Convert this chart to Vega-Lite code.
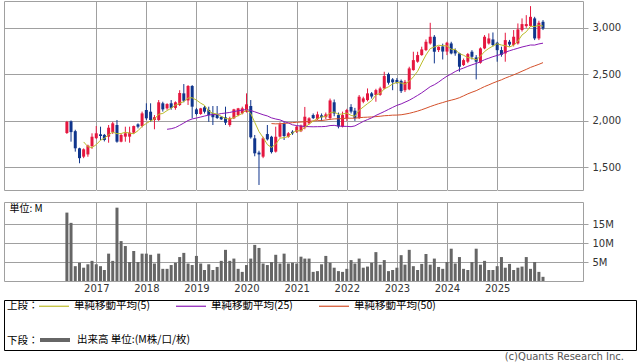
{
  "$schema": "https://vega.github.io/schema/vega-lite/v6.json",
  "padding": {"left": 3, "top": 0, "right": 0, "bottom": 0},
  "background": "white",
  "bounds": "full",
  "spacing": 3,
  "datasets": {
    "p": [
      {"d":"2016-06-01","o":1870,"h":2000,"l":1860,"c":1990,"v":18.0},
      {"d":"2016-07-01","o":1995,"h":2005,"l":1777,"c":1880,"v":15.3},
      {"d":"2016-08-01","o":1890,"h":1905,"l":1670,"c":1706,"v":3.9},
      {"d":"2016-09-01","o":1706,"h":1712,"l":1545,"c":1600,"v":4.8},
      {"d":"2016-10-01","o":1616,"h":1705,"l":1600,"c":1695,"v":3.5},
      {"d":"2016-11-01","o":1640,"h":1745,"l":1615,"c":1735,"v":4.4},
      {"d":"2016-12-01","o":1730,"h":1867,"l":1700,"c":1830,"v":5.3},
      {"d":"2017-01-01","o":1815,"h":1945,"l":1805,"c":1867,"v":4.4},
      {"d":"2017-02-01","o":1856,"h":1938,"l":1795,"c":1838,"v":3.9},
      {"d":"2017-03-01","o":1850,"h":1860,"l":1780,"c":1795,"v":2.9},
      {"d":"2017-04-01","o":1831,"h":1956,"l":1766,"c":1927,"v":7.2},
      {"d":"2017-05-01","o":1880,"h":1990,"l":1860,"c":1974,"v":5.3},
      {"d":"2017-06-01","o":1956,"h":2010,"l":1766,"c":1777,"v":19.3},
      {"d":"2017-07-01","o":1777,"h":1860,"l":1770,"c":1849,"v":10.5},
      {"d":"2017-08-01","o":1831,"h":1938,"l":1777,"c":1867,"v":9.2},
      {"d":"2017-09-01","o":1831,"h":1938,"l":1766,"c":1874,"v":5.0},
      {"d":"2017-10-01","o":1874,"h":1950,"l":1860,"c":1945,"v":7.9},
      {"d":"2017-11-01","o":1963,"h":1974,"l":1920,"c":1938,"v":5.0},
      {"d":"2017-12-01","o":1945,"h":2100,"l":1930,"c":2081,"v":7.2},
      {"d":"2018-01-01","o":2117,"h":2189,"l":2010,"c":2028,"v":7.2},
      {"d":"2018-02-01","o":2099,"h":2189,"l":1990,"c":2010,"v":6.9},
      {"d":"2018-03-01","o":2010,"h":2063,"l":1910,"c":2040,"v":4.6},
      {"d":"2018-04-01","o":2010,"h":2224,"l":2000,"c":2200,"v":7.2},
      {"d":"2018-05-01","o":2189,"h":2206,"l":2100,"c":2124,"v":3.2},
      {"d":"2018-06-01","o":2135,"h":2190,"l":2120,"c":2181,"v":3.2},
      {"d":"2018-07-01","o":2189,"h":2224,"l":2120,"c":2140,"v":4.2},
      {"d":"2018-08-01","o":2140,"h":2210,"l":2120,"c":2200,"v":4.8},
      {"d":"2018-09-01","o":2171,"h":2330,"l":2160,"c":2300,"v":6.3},
      {"d":"2018-10-01","o":2296,"h":2396,"l":2200,"c":2217,"v":7.4},
      {"d":"2018-11-01","o":2220,"h":2385,"l":2171,"c":2375,"v":4.6},
      {"d":"2018-12-01","o":2375,"h":2385,"l":2028,"c":2153,"v":4.2},
      {"d":"2019-01-01","o":2124,"h":2140,"l":2060,"c":2074,"v":6.6},
      {"d":"2019-02-01","o":2074,"h":2140,"l":2065,"c":2135,"v":4.6},
      {"d":"2019-03-01","o":2146,"h":2160,"l":2080,"c":2099,"v":2.9},
      {"d":"2019-04-01","o":2117,"h":2153,"l":1990,"c":2063,"v":4.4},
      {"d":"2019-05-01","o":2081,"h":2160,"l":1956,"c":2040,"v":2.9},
      {"d":"2019-06-01","o":2070,"h":2160,"l":2020,"c":2031,"v":3.7},
      {"d":"2019-07-01","o":2045,"h":2050,"l":2010,"c":2017,"v":5.3},
      {"d":"2019-08-01","o":2038,"h":2153,"l":1956,"c":1981,"v":8.2},
      {"d":"2019-09-01","o":1956,"h":2045,"l":1938,"c":2028,"v":5.3},
      {"d":"2019-10-01","o":2028,"h":2130,"l":2020,"c":2124,"v":5.9},
      {"d":"2019-11-01","o":2063,"h":2140,"l":2050,"c":2135,"v":3.2},
      {"d":"2019-12-01","o":2081,"h":2153,"l":2070,"c":2135,"v":2.4},
      {"d":"2020-01-01","o":2099,"h":2296,"l":2090,"c":2178,"v":4.2},
      {"d":"2020-02-01","o":2160,"h":2224,"l":1810,"c":1824,"v":5.9},
      {"d":"2020-03-01","o":1813,"h":1849,"l":1620,"c":1652,"v":9.5},
      {"d":"2020-04-01","o":1660,"h":1680,"l":1312,"c":1640,"v":8.7},
      {"d":"2020-05-01","o":1616,"h":1830,"l":1600,"c":1813,"v":4.6},
      {"d":"2020-06-01","o":1859,"h":1956,"l":1790,"c":1802,"v":4.2},
      {"d":"2020-07-01","o":1830,"h":1840,"l":1650,"c":1665,"v":5.0},
      {"d":"2020-08-01","o":1670,"h":1938,"l":1660,"c":1830,"v":6.9},
      {"d":"2020-09-01","o":1831,"h":1985,"l":1820,"c":1965,"v":4.6},
      {"d":"2020-10-01","o":1970,"h":1990,"l":1795,"c":1838,"v":7.2},
      {"d":"2020-11-01","o":1830,"h":1880,"l":1820,"c":1867,"v":4.6},
      {"d":"2020-12-01","o":1884,"h":1900,"l":1850,"c":1867,"v":4.8},
      {"d":"2021-01-01","o":1884,"h":1950,"l":1870,"c":1938,"v":4.6},
      {"d":"2021-02-01","o":1890,"h":1960,"l":1880,"c":1950,"v":6.4},
      {"d":"2021-03-01","o":1930,"h":2150,"l":1910,"c":2045,"v":5.9},
      {"d":"2021-04-01","o":1974,"h":2040,"l":1960,"c":2028,"v":5.9},
      {"d":"2021-05-01","o":2063,"h":2080,"l":2020,"c":2030,"v":2.4},
      {"d":"2021-06-01","o":2020,"h":2100,"l":2010,"c":2070,"v":2.6},
      {"d":"2021-07-01","o":2060,"h":2080,"l":2000,"c":2040,"v":4.4},
      {"d":"2021-08-01","o":2040,"h":2090,"l":2020,"c":2070,"v":6.6},
      {"d":"2021-09-01","o":2030,"h":2240,"l":2010,"c":2220,"v":4.8},
      {"d":"2021-10-01","o":2200,"h":2230,"l":2050,"c":2080,"v":3.5},
      {"d":"2021-11-01","o":2063,"h":2090,"l":1920,"c":1940,"v":2.6},
      {"d":"2021-12-01","o":1940,"h":2100,"l":1930,"c":2063,"v":2.4},
      {"d":"2022-01-01","o":2030,"h":2130,"l":2000,"c":2117,"v":3.2},
      {"d":"2022-02-01","o":2150,"h":2180,"l":2080,"c":2100,"v":5.5},
      {"d":"2022-03-01","o":2110,"h":2140,"l":2000,"c":2030,"v":4.6},
      {"d":"2022-04-01","o":2030,"h":2278,"l":2020,"c":2260,"v":5.9},
      {"d":"2022-05-01","o":2206,"h":2260,"l":2190,"c":2242,"v":3.5},
      {"d":"2022-06-01","o":2224,"h":2349,"l":2210,"c":2296,"v":3.8},
      {"d":"2022-07-01","o":2296,"h":2310,"l":2240,"c":2262,"v":4.8},
      {"d":"2022-08-01","o":2278,"h":2345,"l":2206,"c":2331,"v":7.6},
      {"d":"2022-09-01","o":2280,"h":2367,"l":2270,"c":2349,"v":4.3},
      {"d":"2022-10-01","o":2349,"h":2528,"l":2340,"c":2482,"v":5.5},
      {"d":"2022-11-01","o":2503,"h":2518,"l":2390,"c":2410,"v":2.6},
      {"d":"2022-12-01","o":2446,"h":2460,"l":2330,"c":2415,"v":2.9},
      {"d":"2023-01-01","o":2440,"h":2460,"l":2400,"c":2410,"v":3.5},
      {"d":"2023-02-01","o":2430,"h":2445,"l":2300,"c":2320,"v":6.8},
      {"d":"2023-03-01","o":2330,"h":2440,"l":2310,"c":2420,"v":4.3},
      {"d":"2023-04-01","o":2339,"h":2582,"l":2330,"c":2564,"v":8.2},
      {"d":"2023-05-01","o":2546,"h":2743,"l":2540,"c":2653,"v":3.9},
      {"d":"2023-06-01","o":2636,"h":2743,"l":2625,"c":2707,"v":2.9},
      {"d":"2023-07-01","o":2707,"h":2797,"l":2700,"c":2768,"v":4.5},
      {"d":"2023-08-01","o":2761,"h":2875,"l":2750,"c":2850,"v":7.1},
      {"d":"2023-09-01","o":2832,"h":3054,"l":2820,"c":2904,"v":4.3},
      {"d":"2023-10-01","o":2904,"h":2922,"l":2618,"c":2743,"v":5.9},
      {"d":"2023-11-01","o":2761,"h":2800,"l":2740,"c":2797,"v":3.7},
      {"d":"2023-12-01","o":2800,"h":2830,"l":2660,"c":2745,"v":3.2},
      {"d":"2024-01-01","o":2745,"h":2850,"l":2707,"c":2840,"v":5.0},
      {"d":"2024-02-01","o":2832,"h":2850,"l":2715,"c":2725,"v":8.5},
      {"d":"2024-03-01","o":2761,"h":2779,"l":2700,"c":2725,"v":4.6},
      {"d":"2024-04-01","o":2725,"h":2732,"l":2528,"c":2582,"v":6.3},
      {"d":"2024-05-01","o":2600,"h":2670,"l":2590,"c":2653,"v":3.2},
      {"d":"2024-06-01","o":2636,"h":2730,"l":2620,"c":2718,"v":2.9},
      {"d":"2024-07-01","o":2743,"h":2760,"l":2660,"c":2689,"v":5.0},
      {"d":"2024-08-01","o":2682,"h":2707,"l":2446,"c":2636,"v":8.5},
      {"d":"2024-09-01","o":2625,"h":2790,"l":2615,"c":2779,"v":4.3},
      {"d":"2024-10-01","o":2779,"h":2922,"l":2770,"c":2904,"v":5.3},
      {"d":"2024-11-01","o":2832,"h":2940,"l":2820,"c":2886,"v":2.9},
      {"d":"2024-12-01","o":2875,"h":2950,"l":2800,"c":2815,"v":2.9},
      {"d":"2025-01-01","o":2840,"h":2850,"l":2636,"c":2760,"v":3.9},
      {"d":"2025-02-01","o":2761,"h":2797,"l":2690,"c":2710,"v":6.3},
      {"d":"2025-03-01","o":2725,"h":2947,"l":2636,"c":2868,"v":3.5},
      {"d":"2025-04-01","o":2850,"h":2870,"l":2800,"c":2820,"v":4.5},
      {"d":"2025-05-01","o":2815,"h":2976,"l":2800,"c":2904,"v":2.9},
      {"d":"2025-06-01","o":2832,"h":3047,"l":2820,"c":2983,"v":3.5},
      {"d":"2025-07-01","o":2976,"h":3101,"l":2960,"c":3040,"v":3.8},
      {"d":"2025-08-01","o":3018,"h":3136,"l":3000,"c":3040,"v":6.3},
      {"d":"2025-09-01","o":3020,"h":3233,"l":3010,"c":3118,"v":3.2},
      {"d":"2025-10-01","o":3101,"h":3118,"l":2868,"c":2886,"v":5.0},
      {"d":"2025-11-01","o":2886,"h":3076,"l":2868,"c":3054,"v":2.4},
      {"d":"2025-12-01","o":3065,"h":3083,"l":2976,"c":2993,"v":1.1}
    ]
  },
  "vconcat": [
    {
      "width": 579,
      "height": 189,
      "data": {"name": "p"},
      "layer": [
        {
          "mark": {"type": "rule", "strokeWidth": 1},
          "encoding": {
            "x": {"field": "d", "type": "temporal",
              "scale": {"type": "utc", "domain": [{"year": 2015, "month": 4, "date": 6, "utc": true}, {"year": 2026, "month": 8, "date": 13, "utc": true}]},
              "axis": {"values": [{"year": 2017, "utc": true}, {"year": 2018, "utc": true}, {"year": 2019, "utc": true}, {"year": 2020, "utc": true}, {"year": 2021, "utc": true}, {"year": 2022, "utc": true}, {"year": 2023, "utc": true}, {"year": 2024, "utc": true}, {"year": 2025, "utc": true}],
                "labels": false, "ticks": true, "tickSize": 6.5, "tickColor": "#ffffff", "grid": true, "domain": false, "title": null}},
            "y": {"field": "l", "type": "quantitative",
              "scale": {"domain": [1258, 3288], "nice": false, "zero": false},
              "axis": {"orient": "right", "values": [1500, 1750, 2000, 2250, 2500, 2750, 3000, 3250], "format": ",d", "grid": true, "tickSize": 5, "labelPadding": 4, "domain": false, "title": null}},
            "y2": {"field": "h"},
            "color": {"condition": {"test": "datum.c >= datum.o", "value": "#e5173f"}, "value": "#10358c"}
          }
        },
        {
          "mark": {"type": "bar", "size": 3},
          "encoding": {
            "x": {"field": "d", "type": "temporal"},
            "y": {"field": "o", "type": "quantitative", "title": null},
            "y2": {"field": "c"},
            "color": {"condition": {"test": "datum.c >= datum.o", "value": "#e5173f"}, "value": "#10358c"}
          }
        },
        {
          "transform": [
            {"window": [{"op": "mean", "field": "c", "as": "m"}, {"op": "count", "as": "n"}], "frame": [-49, 0], "sort": [{"field": "d"}]},
            {"filter": "datum.n >= 50"}
          ],
          "mark": {"type": "line", "strokeWidth": 1, "color": "#d4502a"},
          "encoding": {"x": {"field": "d", "type": "temporal"}, "y": {"field": "m", "type": "quantitative", "title": null}}
        },
        {
          "transform": [
            {"window": [{"op": "mean", "field": "c", "as": "m"}, {"op": "count", "as": "n"}], "frame": [-24, 0], "sort": [{"field": "d"}]},
            {"filter": "datum.n >= 25"}
          ],
          "mark": {"type": "line", "strokeWidth": 1, "color": "#8b1ab5"},
          "encoding": {"x": {"field": "d", "type": "temporal"}, "y": {"field": "m", "type": "quantitative", "title": null}}
        },
        {
          "transform": [
            {"window": [{"op": "mean", "field": "c", "as": "m"}, {"op": "count", "as": "n"}], "frame": [-4, 0], "sort": [{"field": "d"}]},
            {"filter": "datum.n >= 5"}
          ],
          "mark": {"type": "line", "strokeWidth": 1, "color": "#bcbc2a"},
          "encoding": {"x": {"field": "d", "type": "temporal"}, "y": {"field": "m", "type": "quantitative", "title": null}}
        }
      ]
    },
    {
      "width": 579,
      "height": 79,
      "data": {"name": "p"},
      "layer": [
        {
          "mark": {"type": "bar", "size": 3, "color": "#666666"},
          "encoding": {
            "x": {"field": "d", "type": "temporal",
              "scale": {"type": "utc", "domain": [{"year": 2015, "month": 4, "date": 6, "utc": true}, {"year": 2026, "month": 8, "date": 13, "utc": true}]},
              "axis": {"values": [{"year": 2017, "utc": true}, {"year": 2018, "utc": true}, {"year": 2019, "utc": true}, {"year": 2020, "utc": true}, {"year": 2021, "utc": true}, {"year": 2022, "utc": true}, {"year": 2023, "utc": true}, {"year": 2024, "utc": true}, {"year": 2025, "utc": true}],
                "labelExpr": "utcFormat(datum.value, '%Y')", "ticks": false, "labelPadding": 2, "grid": true, "domain": false, "title": null}},
            "y": {"field": "v", "type": "quantitative",
              "scale": {"domain": [0, 20.79], "nice": false},
              "axis": {"orient": "right", "values": [5, 10, 15], "labelExpr": "datum.value + 'M'", "grid": true, "tickSize": 5, "labelPadding": 4, "domain": false, "title": null}}
          }
        },
        {
          "mark": {"type": "bar", "size": 3, "color": "#666666", "opacity": 0},
          "encoding": {
            "x": {"field": "d", "type": "temporal"},
            "y": {"field": "v", "type": "quantitative",
              "axis": {"orient": "left", "labels": false, "ticks": false, "grid": false, "domain": false, "minExtent": 0, "maxExtent": 0,
                "title": "単位: M", "titleAngle": 0, "titleX": 5, "titleY": 6, "titleAlign": "left", "titleBaseline": "middle",
                "titleFont": "Noto Sans CJK JP", "titleFontSize": 10, "titleFontWeight": "normal", "titleColor": "#000000"}}
          }
        }
      ],
      "resolve": {"axis": {"y": "independent"}}
    },
    {
      "width": 632,
      "height": 50,
      "view": {"stroke": "#000000"},
      "data": {"values": [
        {"s": "単純移動平均(5)", "g": "a"},
        {"s": "単純移動平均(25)", "g": "a"},
        {"s": "単純移動平均(50)", "g": "a"},
        {"s": "出来高 単位:(M株/口/枚)", "g": "b"}
      ]},
      "title": {"text": "(c)Quants Research Inc.", "orient": "bottom", "anchor": "end", "frame": "group", "offset": 7, "baseline": "middle", "dx": -12, "font": "DejaVu Sans", "fontSize": 10, "fontWeight": "normal", "color": "#555555"},
      "layer": [
        {
          "transform": [{"filter": "datum.g == 'a'"}],
          "mark": {"type": "line", "strokeWidth": 1},
          "encoding": {
            "x": {"field": "s", "type": "nominal", "axis": null},
            "y": {"field": "s", "type": "nominal", "axis": null},
            "color": {"field": "s", "type": "nominal",
              "scale": {"domain": ["単純移動平均(5)", "単純移動平均(25)", "単純移動平均(50)"], "range": ["#bcbc2a", "#8b1ab5", "#d4502a"]},
              "legend": {"title": "上段：", "orient": "none", "legendX": 3, "legendY": 0, "direction": "horizontal", "titleOrient": "left", "titlePadding": 9, "symbolType": "M-3,0H3", "symbolSize": 100, "symbolStrokeWidth": 1.2, "labelOffset": 14, "columnPadding": 23}}
          }
        },
        {
          "transform": [{"filter": "datum.g == 'b'"}],
          "mark": {"type": "line", "strokeWidth": 4},
          "encoding": {
            "x": {"field": "s", "type": "nominal", "axis": null},
            "y": {"field": "s", "type": "nominal", "axis": null},
            "color": {"field": "s", "type": "nominal",
              "scale": {"domain": ["出来高 単位:(M株/口/枚)"], "range": ["#666666"]},
              "legend": {"title": "下段：", "orient": "none", "legendX": 3, "legendY": 33, "direction": "horizontal", "titleOrient": "left", "titlePadding": 9, "symbolType": "M-3,0H3", "symbolSize": 100, "symbolStrokeWidth": 4, "labelOffset": 15}}
          }
        }
      ],
      "resolve": {"scale": {"color": "independent"}, "legend": {"color": "independent"}}
    }
  ],
  "config": {
    "view": {"stroke": "#a0a0a0"},
    "axis": {"gridColor": "#a0a0a0", "gridWidth": 1, "tickColor": "#a0a0a0", "labelFont": "DejaVu Sans", "labelFontSize": 10, "labelColor": "#333333"},
    "legend": {"labelFont": "Noto Sans CJK JP", "labelFontSize": 10.5, "titleFont": "Noto Sans CJK JP", "titleFontSize": 10.5, "titleFontWeight": "normal", "labelColor": "#000000", "titleColor": "#000000"}
  }
}
